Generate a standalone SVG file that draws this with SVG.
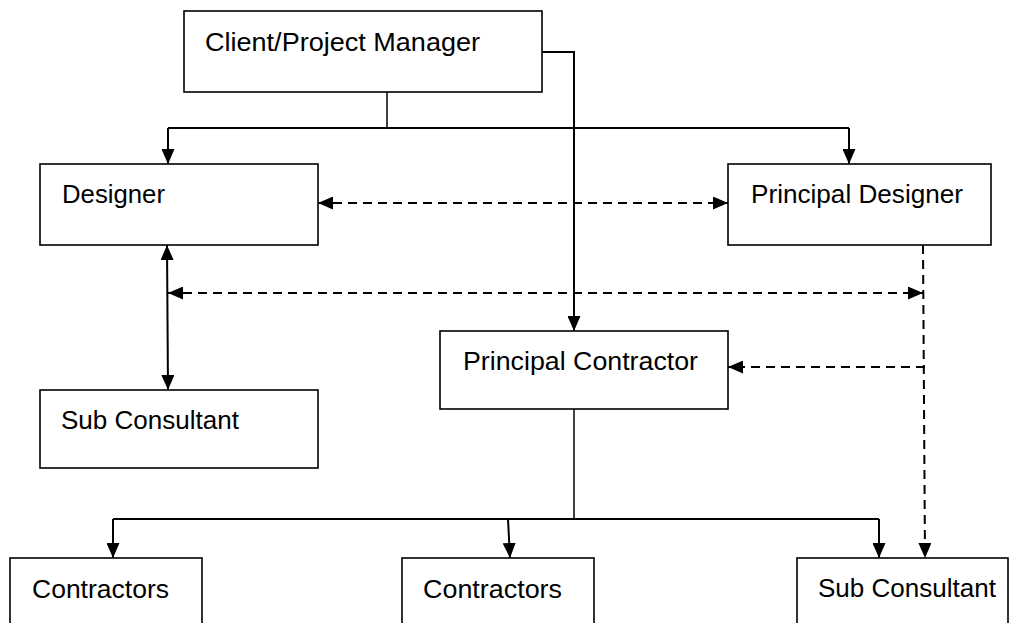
<svg xmlns="http://www.w3.org/2000/svg" width="1016" height="623" viewBox="0 0 1016 623">
<style>
.box{fill:#fff;stroke:#000;stroke-width:1.6}
.t{font-family:"Liberation Sans",Arial,sans-serif;font-size:26px;fill:#000}
.c{fill:none;stroke:#000;stroke-width:2}
.d{fill:none;stroke:#000;stroke-width:2;stroke-dasharray:9 6}
.s{fill:none;stroke:#000;stroke-width:1.5}
</style>
<defs>
<marker id="ah" markerUnits="userSpaceOnUse" markerWidth="15" markerHeight="13" refX="15" refY="6.5" orient="auto-start-reverse" viewBox="0 0 15 13">
<path d="M0,0 L15,6.5 L0,13 z" fill="#000"/>
</marker>
</defs>
<rect width="1016" height="623" fill="#fff"/>
<g id="connectors">
<path class="s" d="M387,92 V128"/>
<path class="c" d="M168,128 H849"/>
<path class="c" d="M168,128 V164" marker-end="url(#ah)"/>
<path class="c" d="M849,128 V164" marker-end="url(#ah)"/>
<path class="c" d="M542,52 H574 V331" marker-end="url(#ah)"/>
<path class="d" d="M318,203 H728" marker-start="url(#ah)" marker-end="url(#ah)"/>
<path class="c" d="M167,245 L168,390" marker-start="url(#ah)" marker-end="url(#ah)"/>
<path class="d" d="M168,293 H923" marker-start="url(#ah)" marker-end="url(#ah)"/>
<path class="d" d="M923,245 L925,558" marker-end="url(#ah)"/>
<path class="d" d="M925,367 H728" marker-end="url(#ah)"/>
<path class="s" d="M574,409 V519"/>
<path class="c" d="M113,519 H879"/>
<path class="c" d="M113,519 V558" marker-end="url(#ah)"/>
<path class="c" d="M508,519 L510,558" marker-end="url(#ah)"/>
<path class="c" d="M879,519 V558" marker-end="url(#ah)"/>
</g>
<g id="client">
<rect class="box" x="184" y="11" width="358" height="81"/>
<text class="t" x="205" y="51" textLength="275" lengthAdjust="spacingAndGlyphs">Client/Project Manager</text>
</g>
<g id="designer">
<rect class="box" x="40" y="164" width="278" height="81"/>
<text class="t" x="62" y="203" textLength="103" lengthAdjust="spacingAndGlyphs">Designer</text>
</g>
<g id="principal-designer">
<rect class="box" x="728" y="164" width="263" height="81"/>
<text class="t" x="751" y="203" textLength="212" lengthAdjust="spacingAndGlyphs">Principal Designer</text>
</g>
<g id="principal-contractor">
<rect class="box" x="440" y="331" width="288" height="78"/>
<text class="t" x="463" y="370" textLength="235" lengthAdjust="spacingAndGlyphs">Principal Contractor</text>
</g>
<g id="sub-consultant-left">
<rect class="box" x="40" y="390" width="278" height="78"/>
<text class="t" x="61" y="429" textLength="178" lengthAdjust="spacingAndGlyphs">Sub Consultant</text>
</g>
<g id="contractors-left">
<rect class="box" x="10" y="558" width="192" height="90"/>
<text class="t" x="32" y="598" textLength="137" lengthAdjust="spacingAndGlyphs">Contractors</text>
</g>
<g id="contractors-middle">
<rect class="box" x="402" y="558" width="192" height="90"/>
<text class="t" x="423" y="598" textLength="139" lengthAdjust="spacingAndGlyphs">Contractors</text>
</g>
<g id="sub-consultant-right">
<rect class="box" x="797" y="558" width="211" height="90"/>
<text class="t" x="818" y="597" textLength="178" lengthAdjust="spacingAndGlyphs">Sub Consultant</text>
</g>
</svg>
